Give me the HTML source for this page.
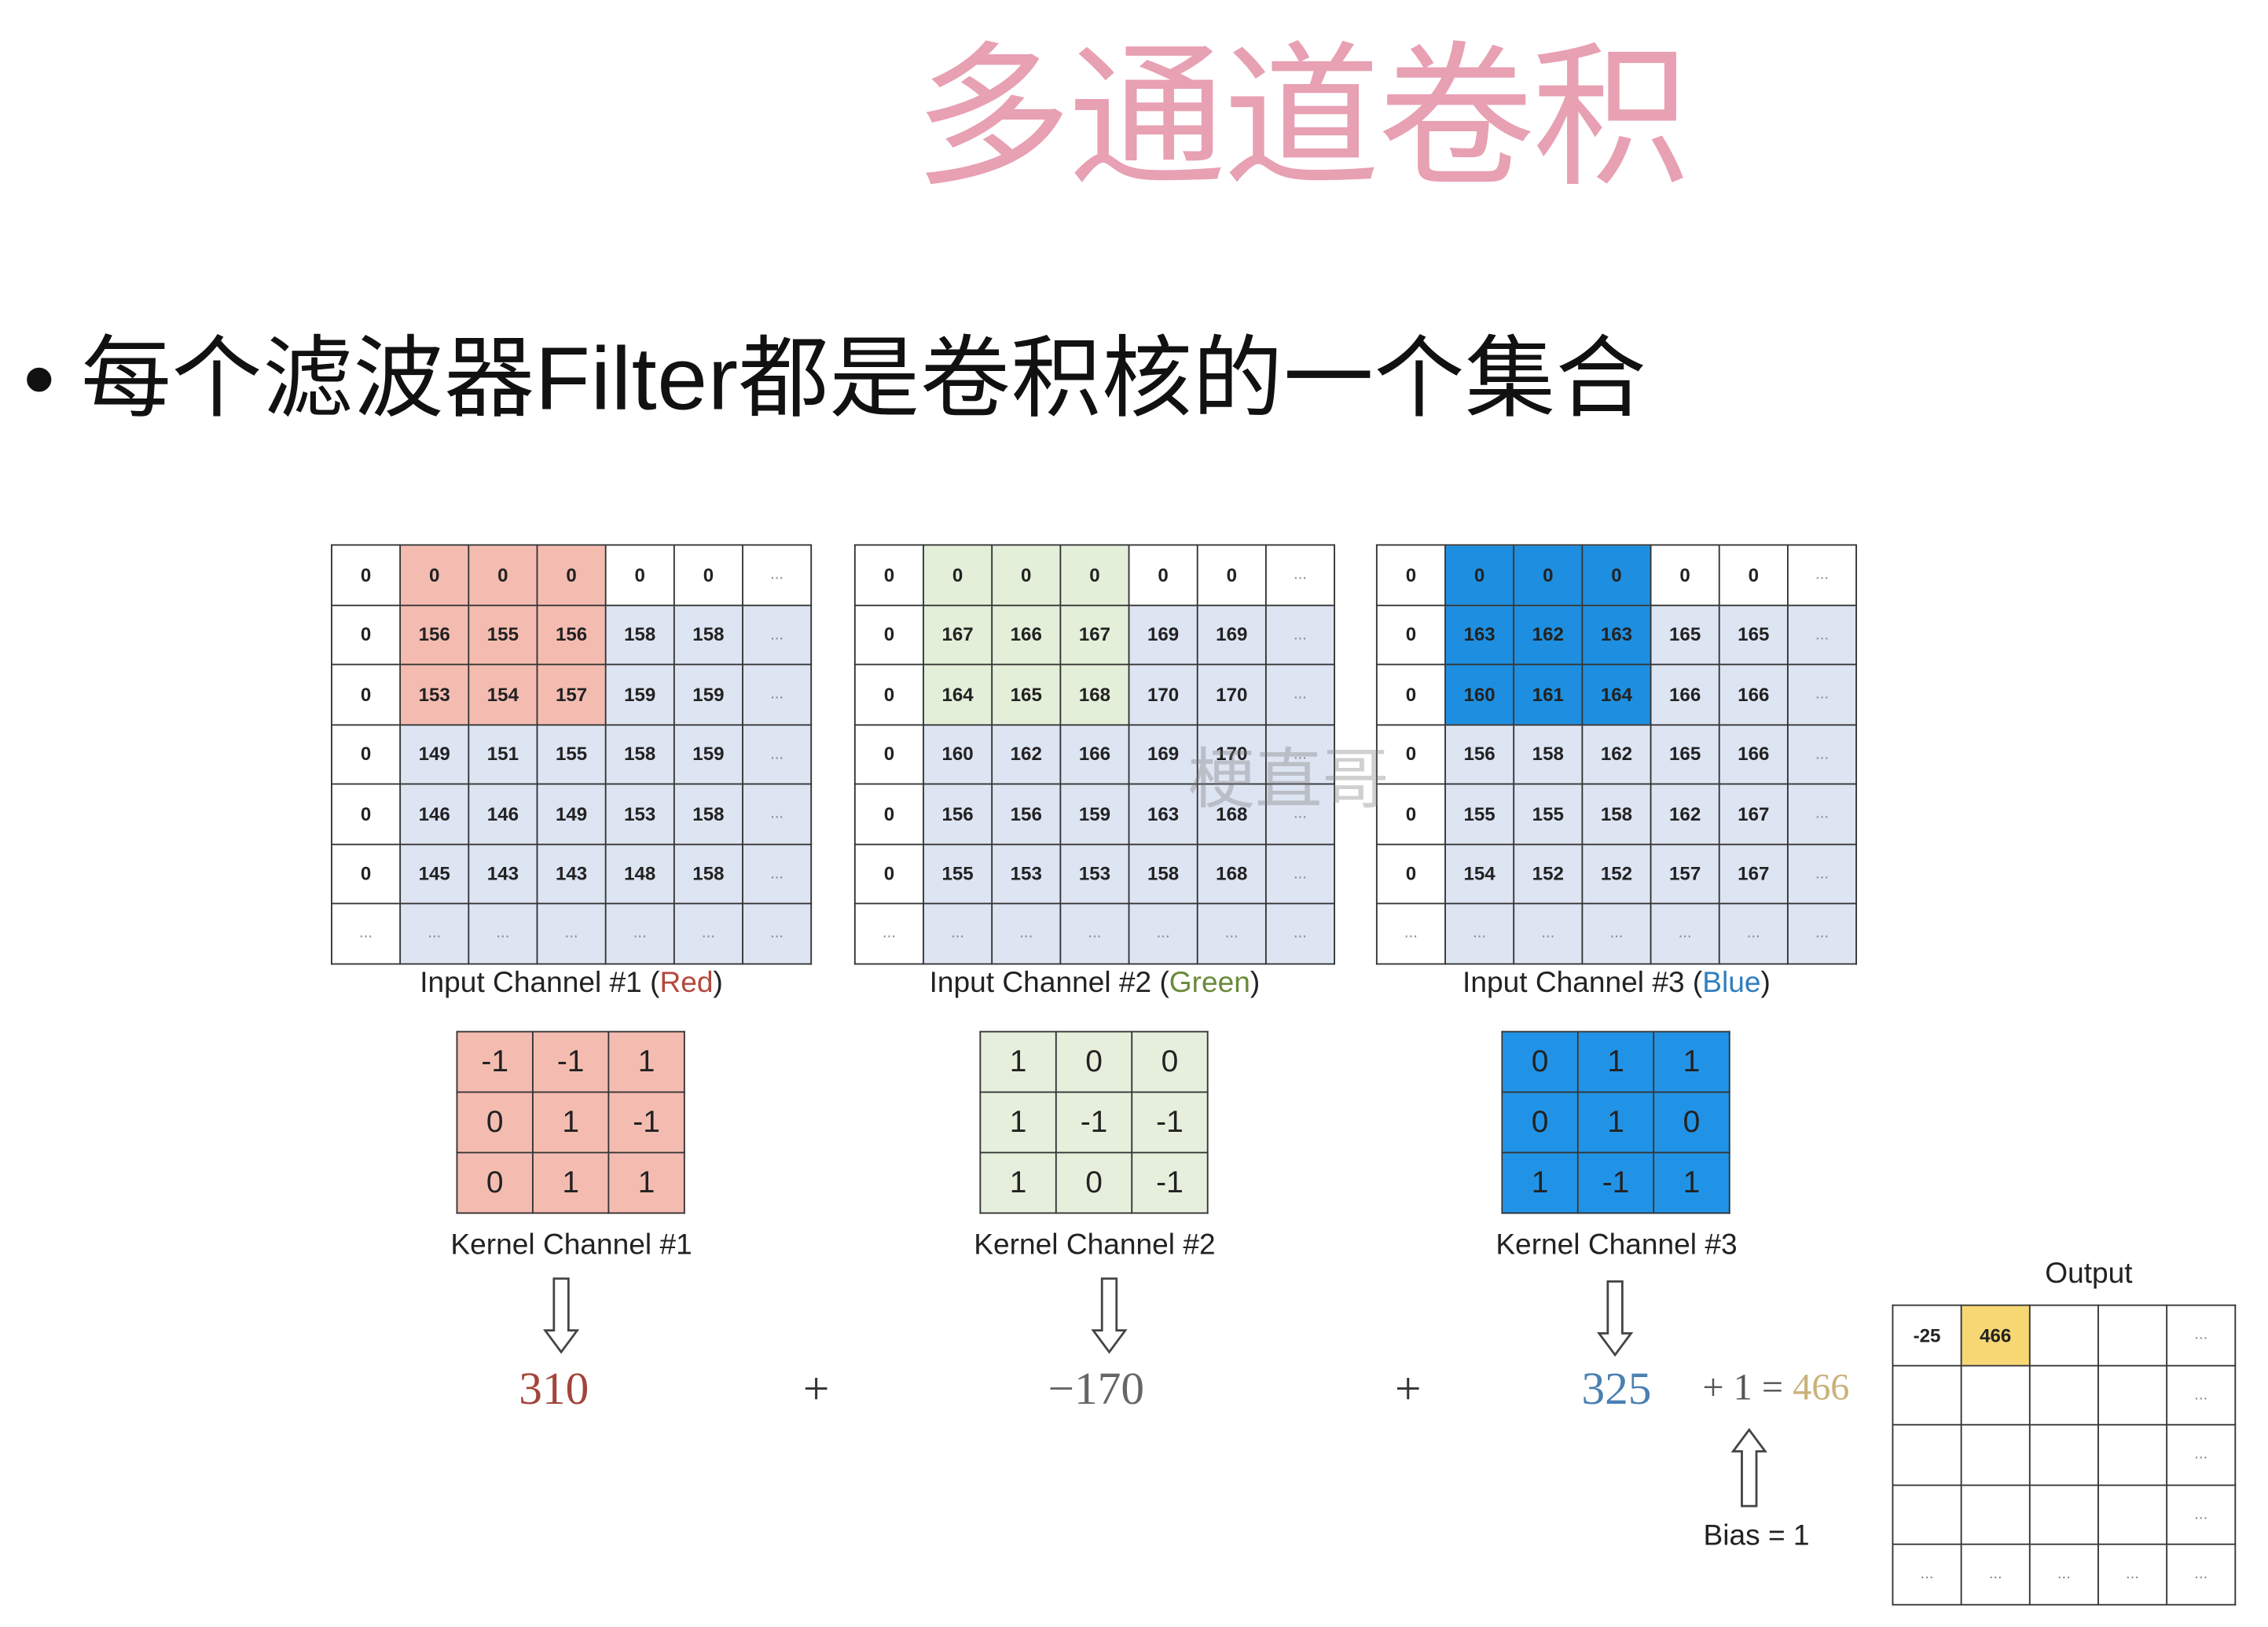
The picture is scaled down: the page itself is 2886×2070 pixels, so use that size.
<!DOCTYPE html>
<html><head><meta charset="utf-8"><style>
html,body{margin:0;padding:0;background:#fff;width:2886px;height:2070px;overflow:hidden}
#s{position:absolute;left:0;top:0;width:1556px;height:1130px;transform-origin:0 0;transform:scale(1.8548,1.8319);font-family:"Liberation Sans","Noto Sans CJK SC",sans-serif}
.a{position:absolute}
table{position:absolute;border-collapse:collapse;table-layout:fixed}
td{border:1.5px solid #333;text-align:center;padding:0;font-weight:bold;font-size:13px;color:#222;background:#dde4f2}
.g td{width:46px;height:40px}
.g tr{height:41.5px}
td.w{background:#fff}
td.d{color:#888;font-weight:normal;font-size:11px}
.r td.h{background:#f4bcb1}
.gr td.h{background:#e3efd9}
.b td.h{background:#1e8fe0}
.k td{width:51px;height:41px;font-weight:normal;font-size:21px;color:#222}
.lab{position:absolute;font-size:20px;color:#222;text-align:center;width:360px}
.num{position:absolute;font-family:"Liberation Serif",serif;font-size:32px;text-align:center}
</style></head><body><div id="s">
<div class="a" style="left:627px;top:8px;font-size:108px;color:#e8a0b3;font-family:'Noto Sans CJK SC',sans-serif;letter-spacing:-2px;line-height:130px">多通道卷积</div>
<div class="a" style="left:16px;top:224px;font-size:62px;color:#111;line-height:80px;letter-spacing:0.3px;font-family:'Liberation Sans','Noto Sans CJK SC',sans-serif">•&nbsp;每个滤波器Filter都是卷积核的一个集合</div>

<table class="g r" style="left:227px;top:378px">
<tr><td class="w">0</td><td class="h">0</td><td class="h">0</td><td class="h">0</td><td class="w">0</td><td class="w">0</td><td class="w d">...</td></tr>
<tr><td class="w">0</td><td class="h">156</td><td class="h">155</td><td class="h">156</td><td>158</td><td>158</td><td class="d">...</td></tr>
<tr><td class="w">0</td><td class="h">153</td><td class="h">154</td><td class="h">157</td><td>159</td><td>159</td><td class="d">...</td></tr>
<tr><td class="w">0</td><td>149</td><td>151</td><td>155</td><td>158</td><td>159</td><td class="d">...</td></tr>
<tr><td class="w">0</td><td>146</td><td>146</td><td>149</td><td>153</td><td>158</td><td class="d">...</td></tr>
<tr><td class="w">0</td><td>145</td><td>143</td><td>143</td><td>148</td><td>158</td><td class="d">...</td></tr>
<tr><td class="w d">...</td><td class="d">...</td><td class="d">...</td><td class="d">...</td><td class="d">...</td><td class="d">...</td><td class="d">...</td></tr>
</table>
<table class="g gr" style="left:586px;top:378px">
<tr><td class="w">0</td><td class="h">0</td><td class="h">0</td><td class="h">0</td><td class="w">0</td><td class="w">0</td><td class="w d">...</td></tr>
<tr><td class="w">0</td><td class="h">167</td><td class="h">166</td><td class="h">167</td><td>169</td><td>169</td><td class="d">...</td></tr>
<tr><td class="w">0</td><td class="h">164</td><td class="h">165</td><td class="h">168</td><td>170</td><td>170</td><td class="d">...</td></tr>
<tr><td class="w">0</td><td>160</td><td>162</td><td>166</td><td>169</td><td>170</td><td class="d">...</td></tr>
<tr><td class="w">0</td><td>156</td><td>156</td><td>159</td><td>163</td><td>168</td><td class="d">...</td></tr>
<tr><td class="w">0</td><td>155</td><td>153</td><td>153</td><td>158</td><td>168</td><td class="d">...</td></tr>
<tr><td class="w d">...</td><td class="d">...</td><td class="d">...</td><td class="d">...</td><td class="d">...</td><td class="d">...</td><td class="d">...</td></tr>
</table>
<table class="g b" style="left:944px;top:378px">
<tr><td class="w">0</td><td class="h">0</td><td class="h">0</td><td class="h">0</td><td class="w">0</td><td class="w">0</td><td class="w d">...</td></tr>
<tr><td class="w">0</td><td class="h">163</td><td class="h">162</td><td class="h">163</td><td>165</td><td>165</td><td class="d">...</td></tr>
<tr><td class="w">0</td><td class="h">160</td><td class="h">161</td><td class="h">164</td><td>166</td><td>166</td><td class="d">...</td></tr>
<tr><td class="w">0</td><td>156</td><td>158</td><td>162</td><td>165</td><td>166</td><td class="d">...</td></tr>
<tr><td class="w">0</td><td>155</td><td>155</td><td>158</td><td>162</td><td>167</td><td class="d">...</td></tr>
<tr><td class="w">0</td><td>154</td><td>152</td><td>152</td><td>157</td><td>167</td><td class="d">...</td></tr>
<tr><td class="w d">...</td><td class="d">...</td><td class="d">...</td><td class="d">...</td><td class="d">...</td><td class="d">...</td><td class="d">...</td></tr>
</table>
<div class="a" style="left:815px;top:505px;font-size:46px;color:rgba(120,120,120,0.35);font-family:'Noto Sans CJK SC',sans-serif">梗直哥</div>

<div class="lab" style="left:212px;top:672px">Input Channel #1 (<span style="color:#b5483c">Red</span>)</div>
<div class="lab" style="left:571px;top:672px">Input Channel #2 (<span style="color:#6a8a3a">Green</span>)</div>
<div class="lab" style="left:929px;top:672px">Input Channel #3 (<span style="color:#2f7fc0">Blue</span>)</div>

<table class="k" style="left:313px;top:716px">
<tr><td style="background:#f4bcb1">-1</td><td style="background:#f4bcb1">-1</td><td style="background:#f4bcb1">1</td></tr>
<tr><td style="background:#f4bcb1">0</td><td style="background:#f4bcb1">1</td><td style="background:#f4bcb1">-1</td></tr>
<tr><td style="background:#f4bcb1">0</td><td style="background:#f4bcb1">1</td><td style="background:#f4bcb1">1</td></tr>
</table>
<table class="k" style="left:672px;top:716px">
<tr><td style="background:#e6efdc">1</td><td style="background:#e6efdc">0</td><td style="background:#e6efdc">0</td></tr>
<tr><td style="background:#e6efdc">1</td><td style="background:#e6efdc">-1</td><td style="background:#e6efdc">-1</td></tr>
<tr><td style="background:#e6efdc">1</td><td style="background:#e6efdc">0</td><td style="background:#e6efdc">-1</td></tr>
</table>
<table class="k" style="left:1030px;top:716px">
<tr><td style="background:#2193e6">0</td><td style="background:#2193e6">1</td><td style="background:#2193e6">1</td></tr>
<tr><td style="background:#2193e6">0</td><td style="background:#2193e6">1</td><td style="background:#2193e6">0</td></tr>
<tr><td style="background:#2193e6">1</td><td style="background:#2193e6">-1</td><td style="background:#2193e6">1</td></tr>
</table>
<div class="lab" style="left:212px;top:854px">Kernel Channel #1</div>
<div class="lab" style="left:571px;top:854px">Kernel Channel #2</div>
<div class="lab" style="left:929px;top:854px">Kernel Channel #3</div>

<svg class="a" style="left:0;top:0" width="1556" height="1130">
<g fill="#fff" stroke="#444" stroke-width="1.5">
<path d="M380,888 h10 v36 h6 l-11,15 l-11,-15 h6 z"/>
<path d="M756,888 h10 v36 h6 l-11,15 l-11,-15 h6 z"/>
<path d="M1103,890 h10 v36 h6 l-11,15 l-11,-15 h6 z"/>
<path d="M1195,1046 h10 v-38 h6 l-11,-15 l-11,15 h6 z"/>
</g>
</svg>

<div class="num" style="left:320px;top:946px;width:120px;color:#a3453a">310</div>
<div class="num" style="left:520px;top:946px;width:80px;color:#333">+</div>
<div class="num" style="left:692px;top:946px;width:120px;color:#666">−170</div>
<div class="num" style="left:926px;top:946px;width:80px;color:#333">+</div>
<div class="num" style="left:1049px;top:946px;width:120px;color:#4a80b2">325</div>
<div class="num" style="left:1168px;top:949px;font-size:26px;color:#555;text-align:left">+ 1 = <span style="color:#c9b27a">466</span></div>
<div class="a" style="left:1145px;top:1056px;width:120px;text-align:center;font-size:20px;color:#222">Bias = 1</div>

<div class="a" style="left:1373px;top:874px;width:120px;text-align:center;font-size:20px;color:#222">Output</div>
<table class="g" style="left:1298px;top:906px">
<tr><td class="w">-25</td><td style="background:#f7d774">466</td><td class="w"></td><td class="w"></td><td class="w d">...</td></tr>
<tr><td class="w"></td><td class="w"></td><td class="w"></td><td class="w"></td><td class="w d">...</td></tr>
<tr><td class="w"></td><td class="w"></td><td class="w"></td><td class="w"></td><td class="w d">...</td></tr>
<tr><td class="w"></td><td class="w"></td><td class="w"></td><td class="w"></td><td class="w d">...</td></tr>
<tr><td class="w d">...</td><td class="w d">...</td><td class="w d">...</td><td class="w d">...</td><td class="w d">...</td></tr>
</table>
</div></body></html>
